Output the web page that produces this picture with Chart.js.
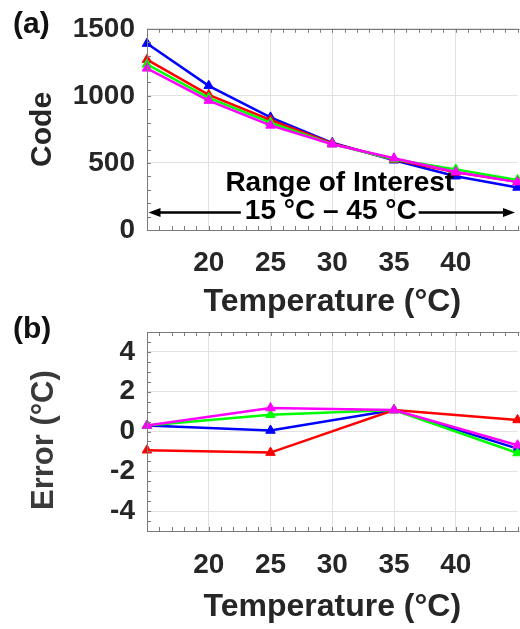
<!DOCTYPE html>
<html><head><meta charset="utf-8">
<script src="https://cdn.jsdelivr.net/npm/chart.js@4.4.1/dist/chart.umd.min.js"></script>
<style>
html,body{margin:0;padding:0;background:#fff;overflow:hidden;width:520px;height:629px;}
#wrap{position:relative;width:520px;height:629px;overflow:hidden;}
canvas{position:absolute;left:0;}
#ca{top:0px;}
#cb{top:300px;}
</style></head><body>
<div id="wrap"><canvas id="ca" width="524" height="320"></canvas><canvas id="cb" width="524" height="329"></canvas></div>
<script>
// ---------- data ----------
const temperaturesCode = [15, 20, 25, 30, 35, 40, 45];
const codeBlue    = [1390, 1075, 840, 650, 520, 401, 317];
const codeRed     = [1270, 1008, 820, 645, 525, 430, 360];
const codeGreen   = [1235,  985, 800, 640, 528, 452, 373];
const codeMagenta = [1205,  965, 780, 639, 535, 432, 357];

const temperaturesError = [15, 25, 35, 45];
const errBlue    = [0.30, 0.05, 1.08, -0.86];
const errRed     = [-0.94, -1.06, 1.08, 0.58];
const errGreen   = [0.30, 0.84, 1.08, -1.08];
const errMagenta = [0.30, 1.18, 1.08, -0.69];

const xTickValues = [20, 25, 30, 35, 40];
const codeTickValues = [0, 500, 1000, 1500];
const errorTickValues = [-4, -2, 0, 2, 4];
const rangeOfInterest = [15, 45];
const rangeLabel1 = 'Range of Interest';
const rangeLabel2 = '15 °C \u2013 45 °C';

// ---------- styling ----------
const FONT = '"Liberation Sans", Arial, Helvetica, sans-serif';
const TXT = '#262626';
const FRAME = '#7a7a7a';
const GRID = '#e2e2e2';
const seriesColors = {blue:'#0000ff', red:'#ff0000', green:'#00ff00', magenta:'#ff00ff'};

function pts(xs, ys){ return xs.map((x,i)=>({x:x, y:ys[i]})); }
function ds(label, xs, ys, color, order){
  return {label, data: pts(xs, ys), borderColor: color, backgroundColor: color,
    pointBackgroundColor: color, pointBorderColor: color, borderWidth: 2.5,
    pointStyle: 'triangle', pointRadius: 5.5, pointBorderWidth: 1,
    tension: 0, clip: false, order};
}

const framePlugin = {
  id: 'frame',
  afterDraw(chart, args, opts){
    const ctx = chart.ctx, a = chart.chartArea;
    const xs = chart.scales.x, ys = chart.scales.y;
    ctx.save();
    ctx.strokeStyle = FRAME; ctx.lineWidth = 1;
    ctx.beginPath();
    for (let v = xs.min; v <= xs.max + 1e-9; v += opts.xMinor){
      const px = Math.round(xs.getPixelForValue(v)) + 0.5;
      ctx.moveTo(px, a.bottom); ctx.lineTo(px, a.bottom - 4);
      ctx.moveTo(px, a.top); ctx.lineTo(px, a.top + 4);
    }
    for (let v = ys.min; v <= ys.max + 1e-9; v += opts.yMinor){
      const py = Math.round(ys.getPixelForValue(v)) + 0.5;
      ctx.moveTo(a.left, py); ctx.lineTo(a.left + 4, py);
    }
    ctx.stroke();
    ctx.beginPath();
    const l = Math.round(a.left) + 0.5, t = Math.round(a.top) + 0.5;
    const b = Math.round(a.bottom) + 0.5, r = a.right + 2;
    ctx.moveTo(r, b); ctx.lineTo(l, b); ctx.lineTo(l, t); ctx.lineTo(r, t);
    ctx.stroke();
    ctx.fillStyle = '#111';
    ctx.font = 'bold 30px ' + FONT;
    ctx.textAlign = 'left'; ctx.textBaseline = 'middle';
    ctx.fillText(opts.panel, 13, opts.panelY);
    ctx.restore();
  }
};

const rangePlugin = {
  id: 'rangeArrow',
  afterDatasetsDraw(chart){
    const ctx = chart.ctx, xs = chart.scales.x, a = chart.chartArea;
    const x0 = xs.getPixelForValue(rangeOfInterest[0]) + 1.5;
    const x1 = xs.getPixelForValue(rangeOfInterest[1]) - 2.5;
    const y = a.bottom - 17.5;
    const cx = (x0 + x1) / 2;
    ctx.save();
    ctx.fillStyle = '#000'; ctx.strokeStyle = '#000';
    ctx.font = 'bold 28px ' + FONT;
    ctx.textAlign = 'center'; ctx.textBaseline = 'middle';
    ctx.fillText(rangeLabel1, cx + 8, y - 29);
    ctx.fillText(rangeLabel2, cx - 1, y - 1);
    const w = ctx.measureText(rangeLabel2).width;
    const tl = cx - 1 - w/2 - 4, tr = cx - 1 + w/2 + 2;
    ctx.lineWidth = 2.5;
    ctx.beginPath();
    ctx.moveTo(x0 + 8, y); ctx.lineTo(tl, y);
    ctx.moveTo(tr, y); ctx.lineTo(x1 - 8, y);
    ctx.stroke();
    ctx.beginPath();
    ctx.moveTo(x0, y); ctx.lineTo(x0 + 12, y - 4.5); ctx.lineTo(x0 + 12, y + 4.5); ctx.closePath();
    ctx.moveTo(x1, y); ctx.lineTo(x1 - 12, y - 4.5); ctx.lineTo(x1 - 12, y + 4.5); ctx.closePath();
    ctx.fill();
    ctx.restore();
  }
};

function makeOptions(cfg){
  return {
    responsive: false, animation: false, devicePixelRatio: 1,
    layout: {padding: {top: cfg.padTop, right: 3.5, left: 0, bottom: 0}},
    plugins: {legend: {display: false}, tooltip: {enabled: false},
      frame: {xMinor: 1, yMinor: cfg.yMinor, panel: cfg.panel, panelY: cfg.panelY}},
    scales: {
      x: {
        type: 'linear', min: 15, max: 45,
        afterBuildTicks: s => { s.ticks = xTickValues.map(v => ({value: v})); },
        afterFit: s => { s.height = cfg.xHeight; },
        grid: {color: GRID, lineWidth: 1, drawTicks: false},
        border: {display: false},
        ticks: {color: TXT, font: {family: FONT, size: 28, weight: 'bold'}, padding: cfg.xTickPad,
          maxRotation: 0, autoSkip: false, callback: v => String(v)},
        title: {display: true, text: 'Temperature (°C)', color: TXT,
          font: {family: FONT, size: 32, weight: 'bold', lineHeight: 1.2},
          padding: {top: 0, bottom: cfg.xTitlePad}}
      },
      y: {
        type: 'linear', min: cfg.yMin, max: cfg.yMax,
        afterBuildTicks: s => { s.ticks = cfg.yTicks.map(v => ({value: v})); },
        afterFit: s => { s.width = 147; },
        grid: {color: GRID, lineWidth: 1, drawTicks: false},
        border: {display: false},
        ticks: {color: TXT, font: {family: FONT, size: 28, weight: 'bold'}, padding: 12,
          autoSkip: false, callback: v => String(v)},
        title: {display: true, text: cfg.yTitle, color: cfg.yTitleColor,
          font: {family: FONT, size: cfg.yTitleSize, weight: cfg.yTitleWeight, lineHeight: 1.2},
          padding: {top: cfg.yTitlePad, bottom: 0}}
      }
    }
  };
}

new Chart(document.getElementById('ca'), {
  type: 'line',
  data: {datasets: [
    ds('Blue', temperaturesCode, codeBlue, seriesColors.blue, 3),
    ds('Red', temperaturesCode, codeRed, seriesColors.red, 2),
    ds('Green', temperaturesCode, codeGreen, seriesColors.green, 1),
    ds('Magenta', temperaturesCode, codeMagenta, seriesColors.magenta, 0)
  ]},
  options: makeOptions({padTop: 28, xHeight: 90, xTickPad: 16, xTitlePad: -1,
    yMin: 0, yMax: 1500, yTicks: codeTickValues, yMinor: 100,
    yTitle: 'Code', yTitleSize: 30, yTitleWeight: 'bold', yTitleColor: TXT, yTitlePad: 25,
    panel: '(a)', panelY: 25}),
  plugins: [framePlugin, rangePlugin]
});

new Chart(document.getElementById('cb'), {
  type: 'line',
  data: {datasets: [
    ds('Blue', temperaturesError, errBlue, seriesColors.blue, 3),
    ds('Red', temperaturesError, errRed, seriesColors.red, 2),
    ds('Green', temperaturesError, errGreen, seriesColors.green, 1),
    ds('Magenta', temperaturesError, errMagenta, seriesColors.magenta, 0)
  ]},
  options: makeOptions({padTop: 32, xHeight: 98, xTickPad: 17, xTitlePad: 3,
    yMin: -5, yMax: 5, yTicks: errorTickValues, yMinor: 0.5,
    yTitle: 'Error (°C)\u00A0\u00A0', yTitleSize: 31, yTitleWeight: 'bold', yTitleColor: '#3a3a3a', yTitlePad: 26,
    panel: '(b)', panelY: 30}),
  plugins: [framePlugin]
});
</script>
</body></html>
